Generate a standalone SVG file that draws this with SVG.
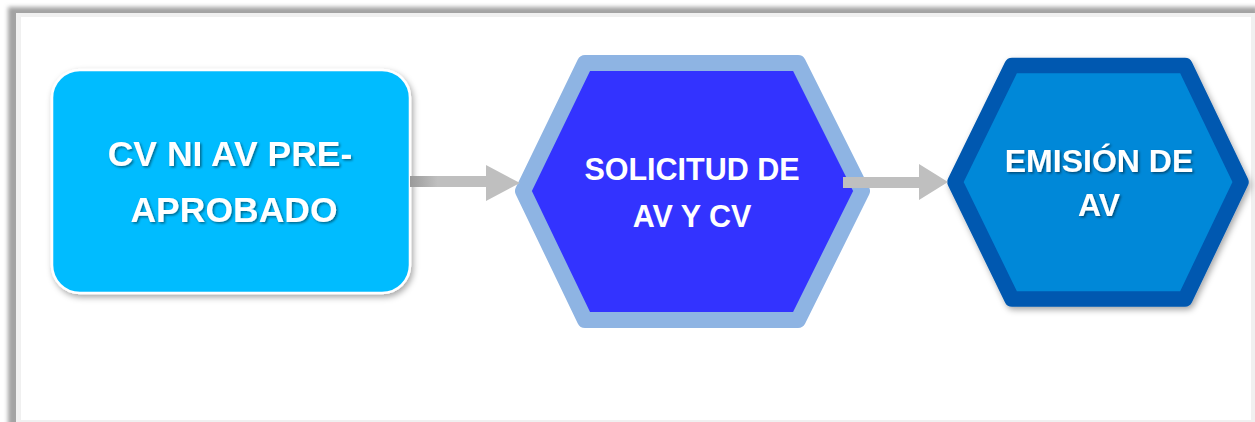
<svg xmlns="http://www.w3.org/2000/svg" width="1255" height="422" viewBox="0 0 1255 422">
  <defs>
    <filter id="frameShadow" x="-5%" y="-5%" width="110%" height="110%">
      <feGaussianBlur stdDeviation="2"/>
    </filter>
    <filter id="nodeShadow" x="-10%" y="-10%" width="125%" height="125%">
      <feDropShadow dx="2" dy="3" stdDeviation="3" flood-color="#000" flood-opacity="0.35"/>
    </filter>
    <filter id="textShadow" x="-10%" y="-20%" width="120%" height="150%">
      <feDropShadow dx="1.5" dy="1.5" stdDeviation="1" flood-color="#000" flood-opacity="0.45"/>
    </filter>
    <linearGradient id="shaftShade" x1="0" y1="0" x2="1" y2="0">
      <stop offset="0" stop-color="#9a9a9a"/>
      <stop offset="0.25" stop-color="#bfbfbf"/>
      <stop offset="1" stop-color="#bfbfbf"/>
    </linearGradient>
    <style>
      .label { font-family: "Liberation Sans", Arial, sans-serif; font-weight: bold; fill: #ffffff; text-anchor: middle; }
      .conn { fill: #bfbfbf; }
    </style>
  </defs>

  <!-- frame -->
  <g id="frame">
    <rect x="0" y="0" width="1255" height="422" fill="#ffffff"/>
    <rect x="8" y="7" width="1250" height="420" fill="#a3a3a3" filter="url(#frameShadow)"/>
    <rect x="16" y="13" width="1239" height="409" fill="#f0f0f0"/>
    <rect x="21" y="17" width="1230" height="403" fill="#ffffff"/>
  </g>

  <!-- node 1 -->
  <g id="node-cv-ni-av">
    <rect x="52" y="70" width="358" height="223" rx="28" ry="28" fill="#06bcff" stroke="#ffffff" stroke-width="2.5" filter="url(#nodeShadow)"/>
    <g filter="url(#textShadow)">
      <text class="label" x="230" y="166" font-size="35.5">CV NI AV PRE-</text>
      <text class="label" x="234" y="222" font-size="35.5">APROBADO</text>
    </g>
  </g>

  <!-- node 2 -->
  <g id="node-solicitud">
    <polygon points="585,63 798,63 862,191 798,320 585,320 523,191" fill="#3333ff" stroke="#8eb4e3" stroke-width="16" stroke-linejoin="round"/>
    <text class="label" x="692" y="180" font-size="30.5">SOLICITUD DE</text>
    <text class="label" x="692" y="227" font-size="30.5">AV Y CV</text>
  </g>

  <!-- node 3 -->
  <g id="node-emision">
    <polygon points="1012,65.5 1185,65.5 1241,182 1185,299 1012,299 955,182" fill="#0088d8" stroke="#0058b0" stroke-width="15.5" stroke-linejoin="round" filter="url(#nodeShadow)"/>
    <g filter="url(#textShadow)">
      <text class="label" x="1099" y="172" font-size="32">EMISIÓN DE</text>
      <text class="label" x="1099" y="216" font-size="32">AV</text>
    </g>
  </g>

  <!-- connectors -->
  <g id="connectors">
    <path d="M410,176 L486,176 L486,165 L520,183 L486,201 L486,187 L410,187 Z" fill="url(#shaftShade)"/>
    <path class="conn" d="M843,177 L919,177 L919,164 L948,182 L919,200 L919,188 L843,188 Z"/>
  </g>
</svg>
